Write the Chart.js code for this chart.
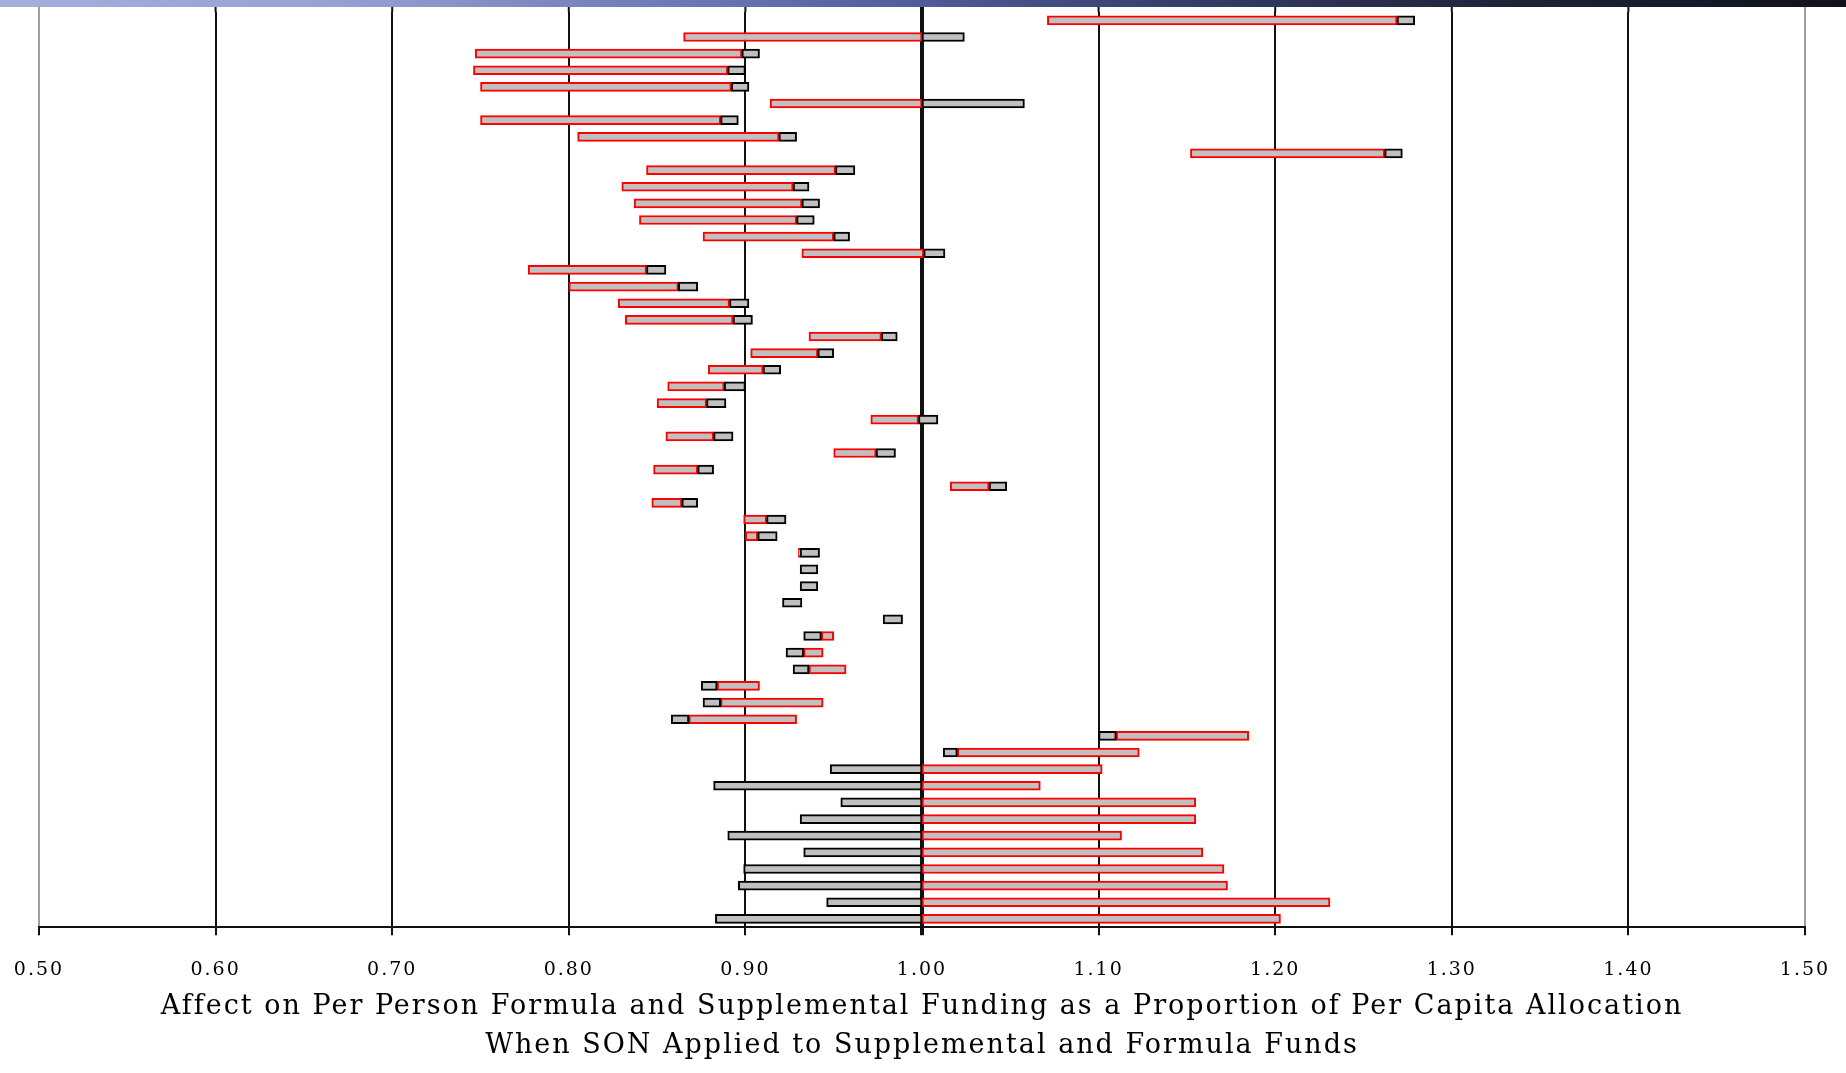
<!DOCTYPE html>
<html lang="en">
<head>
    <meta charset="UTF-8">
    <title>Affect on Per Person Formula and Supplemental Funding</title>
    <script src="https://cdn.jsdelivr.net/npm/chart.js"></script>
    <style>
        html, body {
            margin: 0;
            padding: 0;
            background: #ffffff;
        }
        #wrap {
            position: relative;
            width: 1846px;
            height: 1073px;
        }
        #band {
            position: absolute;
            left: 0;
            top: 0;
            width: 1846px;
            height: 7px;
            background: linear-gradient(to right, #a3b0dc 0%, #95a2d2 18%, #6f7db8 35%, #4e5c98 50%, #343c66 65%, #1e2338 82%, #0f121a 100%);
            z-index: 2;
        }
    </style>
</head>
<body>
<div id="wrap">
    <div id="band"></div>
    <canvas id="myChart"></canvas>
</div>
<script>
    // one row per area, top to bottom
    const rows = ['1','2','3','4','5','6','7','8','9','10','11','12','13','14','15','16','17','18','19','20',
        '21','22','23','24','25','26','27','28','29','30','31','32','33','34','35','36','37','38','39','40',
        '41','42','43','44','45','46','47','48','49','50','51','52','53','54','55'];

    // red-outlined segment
    const redStart = [1.071, 0.865, 0.747, 0.746, 0.750, 0.914, 0.750, 0.805, 1.152, 0.844,
        0.830, 0.837, 0.840, 0.876, 0.932, 0.777, 0.800, 0.828, 0.832, 0.936,
        0.903, 0.879, 0.856, 0.850, 0.971, 0.855, 0.950, 0.848, 1.016, 0.847,
        0.899, 0.900, 0.930, null, null, null, null, 0.943, 0.933, 0.936,
        0.884, 0.886, 0.868, 1.110, 1.020, 1.000, 1.000, 1.000, 1.000, 1.000,
        1.000, 1.000, 1.000, 1.000, 1.000];
    const redEnd = [1.269, 1.000, 0.898, 0.890, 0.892, 1.000, 0.886, 0.919, 1.262, 0.951,
        0.927, 0.932, 0.929, 0.950, 1.001, 0.844, 0.862, 0.891, 0.893, 0.977,
        0.941, 0.910, 0.888, 0.878, 0.998, 0.882, 0.974, 0.873, 1.038, 0.864,
        0.912, 0.907, 0.931, null, null, null, null, 0.950, 0.944, 0.957,
        0.908, 0.944, 0.929, 1.185, 1.123, 1.102, 1.067, 1.155, 1.155, 1.113,
        1.159, 1.171, 1.173, 1.231, 1.203];

    // black-outlined segment
    const grayStart = [1.269, 1.000, 0.898, 0.890, 0.892, 1.000, 0.886, 0.919, 1.262, 0.951,
        0.927, 0.932, 0.929, 0.950, 1.001, 0.844, 0.862, 0.891, 0.893, 0.977,
        0.941, 0.910, 0.888, 0.878, 0.998, 0.882, 0.974, 0.873, 1.038, 0.864,
        0.912, 0.907, 0.931, 0.931, 0.931, 0.921, 0.978, 0.933, 0.923, 0.927,
        0.875, 0.876, 0.858, 1.100, 1.012, 0.948, 0.882, 0.954, 0.931, 0.890,
        0.933, 0.899, 0.896, 0.946, 0.883];
    const grayEnd = [1.279, 1.024, 0.908, 0.900, 0.902, 1.058, 0.896, 0.929, 1.272, 0.962,
        0.936, 0.942, 0.939, 0.959, 1.013, 0.855, 0.873, 0.902, 0.904, 0.986,
        0.950, 0.920, 0.900, 0.889, 1.009, 0.893, 0.985, 0.882, 1.048, 0.873,
        0.923, 0.918, 0.942, 0.941, 0.941, 0.932, 0.989, 0.943, 0.933, 0.936,
        0.884, 0.886, 0.868, 1.110, 1.020, 1.000, 1.000, 1.000, 1.000, 1.000,
        1.000, 1.000, 1.000, 1.000, 1.000];

    const tickLabels = ['0.50','0.60','0.70','0.80','0.90','1.00','1.10','1.20','1.30','1.40','1.50'];

    const axisTitle = [
        'Affect on Per Person Formula and Supplemental Funding as a Proportion of Per Capita Allocation',
        'When SON Applied to Supplemental and Formula Funds'
    ];

    function pairs(a, b) {
        return a.map((v, i) => (v === null ? null : [v, b[i]]));
    }

    function isEdge(v) {
        return Math.abs(v - 0.5) < 1e-6 || Math.abs(v - 1.5) < 1e-6;
    }

    // the old slide font is wide and loosely spaced; only while drawing,
    // so the label measuring for the layout is not thrown off.
    // the gridlines also run up under the title band.
    const slide = {
        id: 'slide',
        beforeDraw(chart) {
            const c = chart.ctx;
            const x = chart.scales.x;
            const top = chart.chartArea.top;
            c.save();
            x.ticks.forEach(t => {
                const px = x.getPixelForValue(t.value);
                c.beginPath();
                c.strokeStyle = isEdge(t.value) ? '#a0a0a0' : '#111111';
                c.lineWidth = Math.abs(t.value - 1) < 1e-6 ? 4 : 2;
                c.moveTo(px, 0);
                c.lineTo(px, top);
                c.stroke();
            });
            c.restore();
            c.letterSpacing = '2px';
        },
        afterDraw(chart) {
            chart.ctx.letterSpacing = '0px';
        }
    };

    const ctx = document.getElementById('myChart').getContext('2d');
    const myChart = new Chart(ctx, {
        type: 'bar',
        data: {
            labels: rows,
            datasets: [
                {
                    label: 'SON on supplemental',
                    data: pairs(grayStart, grayEnd),
                    backgroundColor: '#c0c0c0',
                    borderColor: '#000000',
                    borderWidth: 2,
                    borderSkipped: false,
                    barThickness: 9,
                    grouped: false,
                    order: 0
                },
                {
                    label: 'SON on formula',
                    data: pairs(redStart, redEnd),
                    backgroundColor: '#c0c0c0',
                    borderColor: '#ff0000',
                    borderWidth: 2,
                    borderSkipped: false,
                    barThickness: 9,
                    grouped: false,
                    order: 1
                }
            ]
        },
        options: {
            indexAxis: 'y',
            responsive: true,
            maintainAspectRatio: false,
            animation: false,
            layout: {
                padding: { top: 12, left: 39, right: 41, bottom: 8 }
            },
            plugins: {
                legend: { display: false },
                tooltip: { enabled: false }
            },
            scales: {
                x: {
                    min: 0.5,
                    max: 1.5,
                    ticks: {
                        stepSize: 0.1,
                        padding: 4,
                        color: '#000',
                        maxRotation: 0,
                        // tall line box pushes the labels down without widening the side padding
                        font: { family: 'DejaVu Serif', size: 19, lineHeight: 3.2 },
                        callback: (v, i) => tickLabels[i]
                    },
                    grid: {
                        color: c => (c.tick && isEdge(c.tick.value)) ? '#a0a0a0' : '#111111',
                        lineWidth: c => (c.tick && Math.abs(c.tick.value - 1) < 1e-6) ? 4 : 2,
                        tickColor: '#111111',
                        tickLength: 8
                    },
                    border: { display: true, color: '#111111', width: 2 },
                    title: {
                        display: true,
                        text: axisTitle,
                        color: '#000',
                        padding: { top: -17, bottom: 0 },
                        font: { family: 'DejaVu Serif', size: 27, lineHeight: 1.444 }
                    }
                },
                y: {
                    display: false,
                    offset: true
                }
            }
        },
        plugins: [slide]
    });
</script>
</body>
</html>
